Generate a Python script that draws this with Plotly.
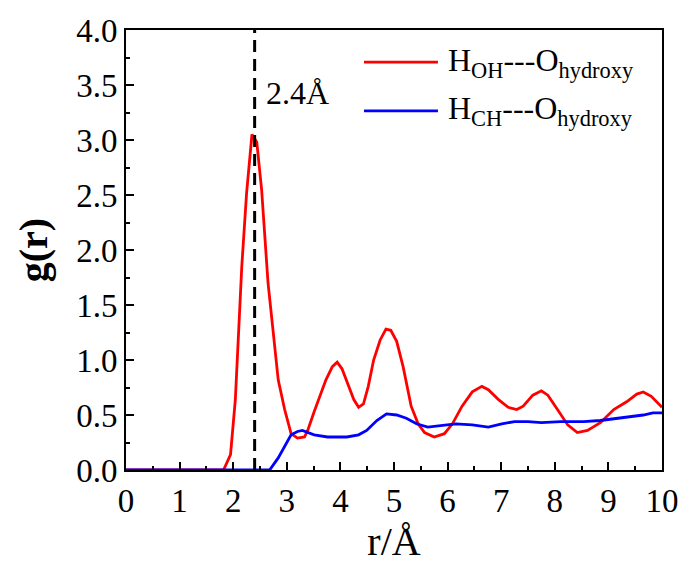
import plotly.graph_objects as go

# ---- data ----
r_oh = [0.0, 1.82, 1.95, 2.04, 2.16, 2.25, 2.35, 2.44, 2.53, 2.65, 2.84, 2.96, 3.08, 3.20,
        3.33, 3.39, 3.51, 3.73, 3.85, 3.94, 4.03, 4.16, 4.25, 4.34, 4.43, 4.52, 4.62, 4.74,
        4.85, 4.94, 5.05, 5.17, 5.32, 5.45, 5.57, 5.75, 5.94, 6.09, 6.27, 6.46, 6.64, 6.76,
        6.95, 7.13, 7.29, 7.41, 7.59, 7.75, 7.87, 8.05, 8.24, 8.42, 8.61, 8.85, 9.10, 9.34,
        9.53, 9.65, 9.80, 10.0]
g_oh = [0.0, 0.0, 0.14, 0.64, 1.85, 2.52, 3.05, 2.98, 2.55, 1.70, 0.82, 0.55, 0.33, 0.29,
        0.30, 0.36, 0.53, 0.82, 0.94, 0.98, 0.92, 0.76, 0.64, 0.57, 0.60, 0.76, 1.00, 1.18,
        1.28, 1.27, 1.17, 0.94, 0.58, 0.42, 0.34, 0.30, 0.33, 0.42, 0.58, 0.71, 0.76, 0.73,
        0.64, 0.57, 0.55, 0.58, 0.68, 0.72, 0.68, 0.55, 0.41, 0.34, 0.36, 0.43, 0.55, 0.62,
        0.69, 0.71, 0.67, 0.57]

r_ch = [0.0, 2.68, 2.84, 2.96, 3.08, 3.20, 3.29, 3.51, 3.76, 4.12, 4.34, 4.49, 4.68, 4.86,
        5.05, 5.23, 5.42, 5.63, 5.84, 6.15, 6.46, 6.76, 7.01, 7.25, 7.50, 7.75, 8.11, 8.54,
        8.85, 9.15, 9.40, 9.65, 9.83, 10.0]
g_ch = [0.0, 0.0, 0.11, 0.21, 0.32, 0.35, 0.36, 0.32, 0.30, 0.30, 0.32, 0.36, 0.45, 0.51,
        0.50, 0.47, 0.42, 0.39, 0.40, 0.42, 0.41, 0.39, 0.42, 0.44, 0.44, 0.43, 0.44, 0.44,
        0.45, 0.47, 0.48, 0.50, 0.52, 0.52]

peak_r = 2.4
peak_label = "2.4Å"
names = ["H<sub>OH</sub>---O<sub>hydroxy</sub>", "H<sub>CH</sub>---O<sub>hydroxy</sub>"]
colors = ["#ff0000", "#0000ff"]
x_ticks = list(range(0, 11))
y_ticks = [0.0, 0.5, 1.0, 1.5, 2.0, 2.5, 3.0, 3.5, 4.0]

FONT = "Liberation Serif, Times New Roman, serif"

fig = go.Figure()
fig.add_trace(go.Scatter(x=r_oh, y=g_oh, mode="lines", name=names[0],
                         line=dict(color=colors[0], width=2.8), showlegend=False))
fig.add_trace(go.Scatter(x=r_ch, y=g_ch, mode="lines", name=names[1],
                         line=dict(color=colors[1], width=2.8), showlegend=False))
# dashed marker line at the first peak
fig.add_trace(go.Scatter(x=[peak_r, peak_r], y=[0, 4], mode="lines", showlegend=False,
                         line=dict(color="black", width=3, dash="12px,7px")))

fig.add_annotation(x=2.58, y=3.43, xref="x", yref="y", text=peak_label, showarrow=False,
                   xanchor="left", yanchor="middle", font=dict(family=FONT, size=32, color="black"))

# manual legend (long line samples as in the reference)
leg_y = [0.927, 0.816]
for i in range(2):
    fig.add_shape(type="line", xref="paper", yref="paper", x0=0.444, x1=0.582,
                  y0=leg_y[i], y1=leg_y[i], line=dict(color=colors[i], width=2.8))
    fig.add_annotation(x=0.597, y=leg_y[i], xref="paper", yref="paper", text=names[i],
                       showarrow=False, xanchor="left", yanchor="middle",
                       font=dict(family=FONT, size=32, color="black"))

fig.update_layout(
    width=691, height=565,
    margin=dict(l=126, r=22, t=30, b=95),
    paper_bgcolor="white", plot_bgcolor="white",
    font=dict(family=FONT, color="black"),
)
fig.update_xaxes(
    range=[0, 10], tickvals=x_ticks, ticks="inside", ticklen=8, tickwidth=2, tickcolor="black",
    minor=dict(dtick=0.5, ticks="inside", ticklen=4, tickwidth=2, tickcolor="black"),
    showline=True, linewidth=2, linecolor="black", mirror=True, showgrid=False, zeroline=False,
    tickfont=dict(family=FONT, size=33),
    title=dict(text="r/Å", font=dict(family=FONT, size=40), standoff=6),
)
fig.update_yaxes(
    range=[0, 4], tickvals=y_ticks, tickformat=".1f", ticks="inside", ticklen=8, tickwidth=2,
    tickcolor="black",
    minor=dict(dtick=0.25, ticks="inside", ticklen=4, tickwidth=2, tickcolor="black"),
    showline=True, linewidth=2, linecolor="black", mirror=True, showgrid=False, zeroline=False,
    tickfont=dict(family=FONT, size=33),
    title=dict(text="<b>g(r)</b>", font=dict(family=FONT, size=40), standoff=16),
)

fig.write_html("out.html")
